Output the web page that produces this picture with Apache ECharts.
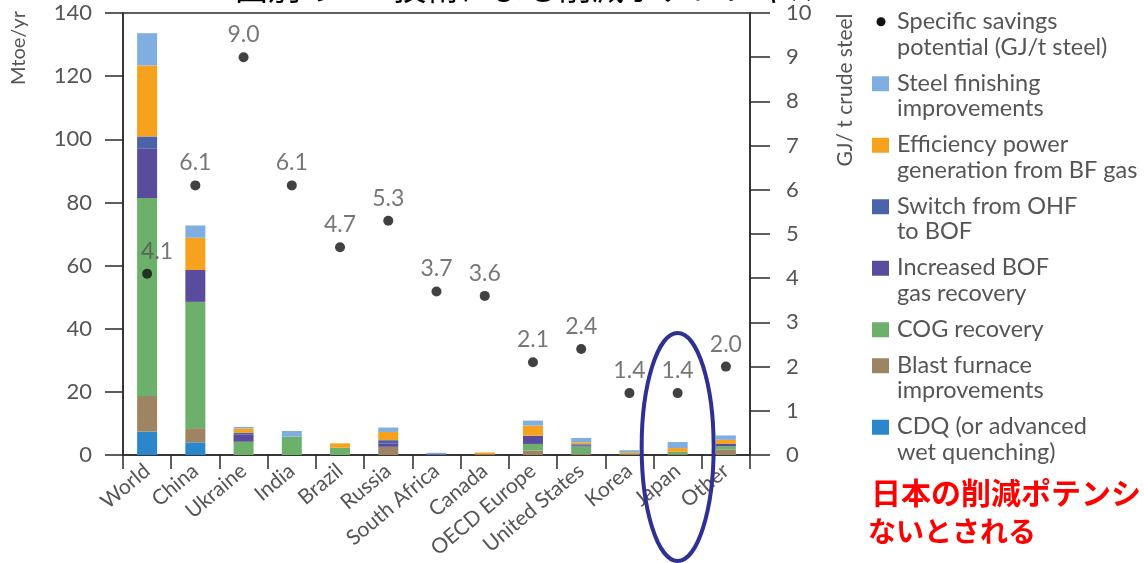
<!DOCTYPE html>
<html>
<head>
<meta charset="utf-8">
<script src="https://cdn.jsdelivr.net/npm/echarts@6/dist/echarts.min.js"></script>
<style>
  html, body { margin: 0; padding: 0; background: #fff; }
  #chart { width: 1144px; height: 563px; }
</style>
</head>
<body>
<div id="chart"></div>
<script>
// Countries / regions on the horizontal axis
const categories = ['World', 'China', 'Ukraine', 'India', 'Brazil', 'Russia', 'South Africa',
  'Canada', 'OECD Europe', 'United States', 'Korea', 'Japan', 'Other'];

// Savings potential by measure, Mtoe/yr (stacked bottom to top)
const cdq          = [7.4, 4.0, 0,   0,   0,   0,   0,   0,   0,   0,   0,   0,   0];
const blastFurnace = [11.3, 4.5, 0,  0,   0,   2.6, 0,   0.2, 1.4, 0.3, 0.2, 0.3, 1.7];
const cogRecovery  = [62.7, 40.0, 4.2, 5.8, 2.3, 0,  0,   0,   2.1, 2.4, 0,   0.7, 1.1];
const bofGas       = [15.6, 10.1, 2.2, 0,  0,   1.1, 0.2, 0,   2.6, 0.4, 0,   0,   0.7];
const ohfToBof     = [3.9, 0,   0.6, 0,   0,   1.0, 0,   0,   0,   0.3, 0,   0,   0];
const bfGasPower   = [22.5, 10.2, 1.4, 0,  1.4, 2.6, 0,   0.6, 3.2, 0.6, 0.5, 1.2, 1.3];
const finishing    = [10.2, 3.9, 0.5, 1.8, 0,   1.4, 0.5, 0,   1.6, 1.4, 0.8, 1.9, 1.4];

// Specific savings potential, GJ/t crude steel (right axis)
const savingsPotential = [4.1, 6.1, 9.0, 6.1, 4.7, 5.3, 3.7, 3.6, 2.1, 2.4, 1.4, 1.4, 2.0];

// Axis ranges
const leftTicks = { min: 0, max: 140, interval: 20 };
const rightTicks = { min: 0, max: 10, interval: 1 };

const barSeries = [
  { name: 'CDQ (or advanced\nwet quenching)', data: cdq, color: '#2b86cc' },
  { name: 'Blast furnace\nimprovements', data: blastFurnace, color: '#9d8462' },
  { name: 'COG recovery', data: cogRecovery, color: '#6cb06c' },
  { name: 'Increased BOF\ngas recovery', data: bofGas, color: '#5a4c9c' },
  { name: 'Switch from OHF\nto BOF', data: ohfToBof, color: '#4b63a8' },
  { name: 'Efficiency power\ngeneration from BF gas', data: bfGasPower, color: '#f7a21e' },
  { name: 'Steel finishing\nimprovements', data: finishing, color: '#80aee0' }
];
const dotName = 'Specific savings\npotential (GJ/t steel)';

const FONT = 'Lato, "Open Sans", sans-serif';
const TXT = '#555';
const AXIS = '#2a2a2a';

const chart = echarts.init(document.getElementById('chart'), null, { renderer: 'canvas' });

const series = barSeries.map(s => ({
  name: s.name,
  type: 'bar',
  stack: 'total',
  barWidth: 20,
  data: s.data,
  itemStyle: { color: s.color },
  emphasis: { disabled: true },
  yAxisIndex: 0
}));
series.push({
  name: dotName,
  type: 'scatter',
  yAxisIndex: 1,
  symbolSize: 10,
  itemStyle: { color: '#111' },
  data: savingsPotential.map((v, i) => i === 0
    ? { value: v, label: { offset: [10, 0] } }
    : v),
  label: {
    show: true,
    position: 'top',
    distance: 6,
    color: TXT,
    fontFamily: FONT,
    fontSize: 23,
    formatter: p => Number(p.value).toFixed(1)
  },
  z: 5
});

// Legend drawn as graphic entries: icon aligned with first text line
const legendEntries = [{ name: dotName, color: '#111', dot: true }]
  .concat(barSeries.slice().reverse().map(s => ({ name: s.name, color: s.color, dot: false })));
const legendGraphics = [];
const LINE_H = 25.5, GAP = 10.5, LX = 872, TX = 897;
let cursor = 9;
legendEntries.forEach(e => {
  const lines = e.name.split('\n');
  const firstMid = cursor + LINE_H / 2;
  if (e.dot) {
    legendGraphics.push({ type: 'circle', shape: { cx: LX + 9, cy: firstMid, r: 4.5 }, style: { fill: e.color } });
  } else {
    legendGraphics.push({ type: 'rect', shape: { x: LX, y: firstMid - 7, width: 17, height: 15 }, style: { fill: e.color } });
  }
  legendGraphics.push({
    type: 'text', left: TX, top: cursor,
    style: { text: e.name, fill: TXT, font: '23.5px ' + FONT, lineHeight: LINE_H, verticalAlign: 'top' }
  });
  cursor += lines.length * LINE_H + GAP;
});

const option = {
  animation: false,
  backgroundColor: '#fff',
  grid: { left: 123, right: 394, top: 13, bottom: 108, show: true, borderColor: AXIS, borderWidth: 1.5 },
  legend: { show: false },
  xAxis: {
    type: 'category',
    data: categories,
    axisLine: { lineStyle: { color: AXIS, width: 1.5 } },
    axisTick: { show: true, length: 14, interval: 0, lineStyle: { color: AXIS, width: 1.5 } },
    axisLabel: { interval: 0, rotate: 40, color: TXT, fontFamily: FONT, fontSize: 21, margin: 13 }
  },
  yAxis: [
    {
      type: 'value', min: leftTicks.min, max: leftTicks.max, interval: leftTicks.interval,
      position: 'left',
      axisLine: { show: true, lineStyle: { color: AXIS, width: 1.5 } },
      axisTick: { show: true, length: 18, lineStyle: { color: AXIS, width: 1.5 } },
      axisLabel: { color: TXT, fontFamily: FONT, fontSize: 22, margin: 31 },
      splitLine: { show: false }
    },
    {
      type: 'value', min: rightTicks.min, max: rightTicks.max, interval: rightTicks.interval,
      position: 'right',
      axisLine: { show: true, lineStyle: { color: AXIS, width: 1.5 } },
      axisTick: { show: true, length: 20, lineStyle: { color: AXIS, width: 1.5 } },
      axisLabel: { color: TXT, fontFamily: FONT, fontSize: 22, margin: 36 },
      splitLine: { show: false }
    }
  ],
  series: series
};
chart.setOption(option);

// Annotations placed relative to the axes
const jx = chart.convertToPixel({ xAxisIndex: 0 }, 'Japan');
chart.setOption({
  graphic: [
    {
      type: 'text', left: 235, top: -29,
      style: { text: '国別のBAT技術による削減ポテンシャル', fill: '#000', font: '33px "Noto Sans CJK JP"' },
      z: 0
    },
    {
      type: 'text', x: 19, y: 48, rotation: Math.PI / 2,
      style: { text: 'Mtoe/yr', fill: TXT, font: '20px ' + FONT, align: 'center', verticalAlign: 'middle' }
    },
    {
      type: 'text', x: 845, y: 90, rotation: Math.PI / 2,
      style: { text: 'GJ/ t crude steel', fill: TXT, font: '21px ' + FONT, align: 'center', verticalAlign: 'middle' }
    },
    {
      type: 'ellipse',
      shape: { cx: jx, cy: 447, rx: 36, ry: 114 },
      style: { fill: 'none', stroke: '#2e3193', lineWidth: 4 },
      z: 10
    },
    {
      type: 'text', left: 868, top: 478,
      style: {
        text: '{a|日本の削減ポテンシャルは少}\n{b|ないとされる}',
        rich: {
          a: { fill: '#ff0000', font: 'bold 30px "Noto Sans CJK JP"', lineHeight: 38, padding: [0, 0, 0, 3] },
          b: { fill: '#ff0000', font: 'bold 28px "Noto Sans CJK JP"', lineHeight: 38 }
        }
      }
    }
  ].concat(legendGraphics)
});
</script>
</body>
</html>
